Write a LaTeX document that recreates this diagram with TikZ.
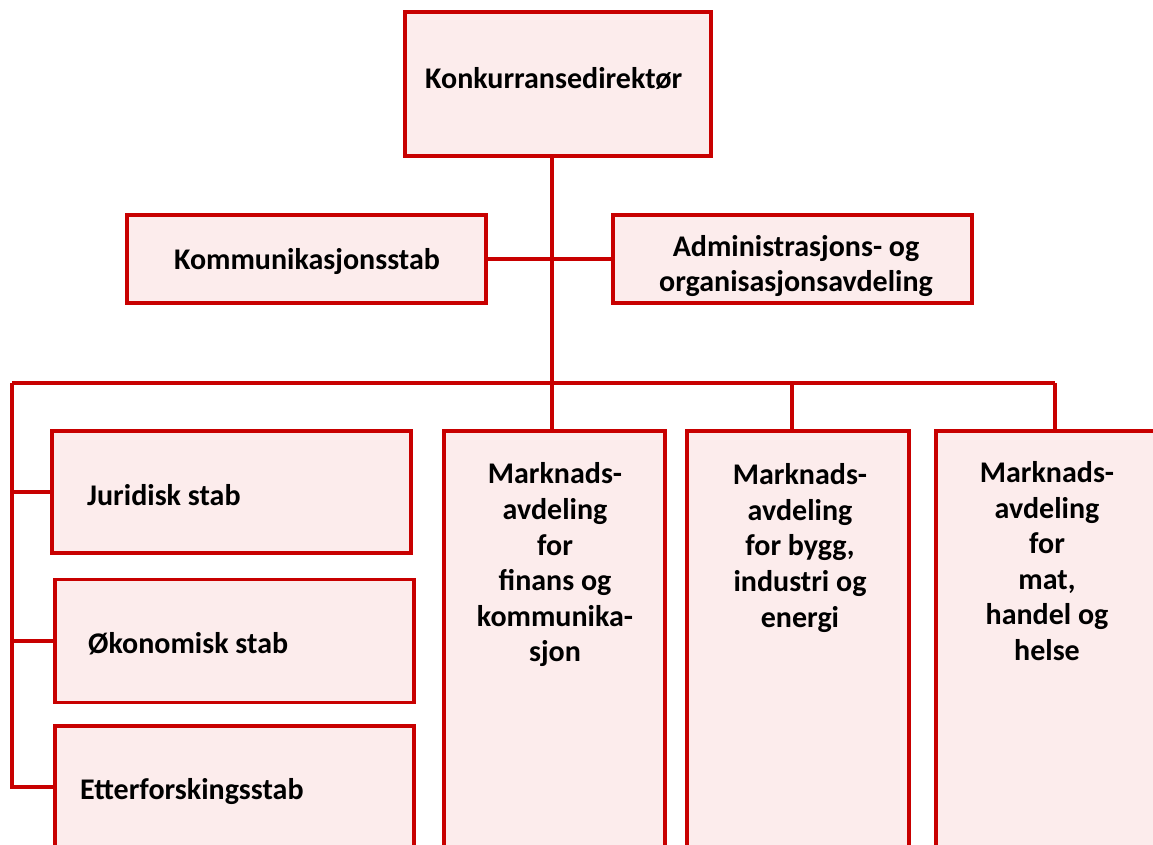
\documentclass[tikz,border=0pt]{standalone}
\usepackage{fontspec}
\setmainfont{Carlito}
\begin{document}
\begin{tikzpicture}[x=1bp,y=-1bp,
  box/.style={draw=boxred, fill=boxfill, line width=3.2bp, rectangle, inner sep=0pt},
  lbl/.style={font=\fontsize{30bp}{35.6bp}\selectfont\bfseries, inner sep=0pt, text=black},
  mlbl/.style={lbl, align=center},
  conn/.style={draw=boxred, line width=3.2bp}]
\definecolor{boxred}{HTML}{C80000}
\definecolor{boxfill}{HTML}{FCECEC}
\useasboundingbox (0,0) rectangle (1153,845);
\clip (0,0) rectangle (1153,845);
% coordinates for connectors
\coordinate (spine) at (552,383);
\coordinate (busL) at (12,383);
\coordinate (busR) at (1055,383);
\coordinate (bus2) at (792,383);
\coordinate (ettT) at (12,787);
% boxes
\node[box, minimum width=306bp, minimum height=144bp] (top) at (558,84) {};
\node[box, minimum width=359bp, minimum height=88bp] (komm) at (306.5,259) {};
\node[box, minimum width=359bp, minimum height=88bp] (adm) at (792.5,259) {};
\node[box, minimum width=359bp, minimum height=122bp] (jur) at (231.5,492) {};
\node[box, minimum width=359bp, minimum height=123bp] (oko) at (234.5,641) {};
\node[box, minimum width=359bp, minimum height=200bp] (ett) at (234.5,826) {};
\node[box, minimum width=221bp, minimum height=500bp] (m1) at (554.5,681) {};
\node[box, minimum width=222bp, minimum height=500bp] (m2) at (798,681) {};
\node[box, minimum width=240bp, minimum height=500bp] (m3) at (1056,681) {};
% connectors
\draw[conn] (top.south -| spine) -- (m1.north -| spine);
\draw[conn] (komm.east) -- (adm.west);
\draw[conn] (busL) -- (busR);
\draw[conn] (bus2) -- (m2.north -| bus2);
\draw[conn] (busR) -- (m3.north -| busR);
\draw[conn] (busL) -- (ettT) -- (ettT -| ett.west);
\draw[conn] (jur.west -| busL) -- (jur.west);
\draw[conn] (oko.west -| busL) -- (oko.west);
% labels
\node[lbl, anchor=west] (ttop) at (425,79) {Konkurransedirektør};
\node[lbl] (tkomm) at (307,262) {Kommunikasjonsstab};
\node[mlbl] (tadm) at (796,266) {Administrasjons- og\\organisasjonsavdeling};
\node[lbl, anchor=west] (tjur) at (87,495) {Juridisk stab};
\node[lbl, anchor=west] (toko) at (88,644) {Økonomisk stab};
\node[lbl, anchor=west] (tett) at (80,792) {Etterforskingsstab};
\node[mlbl] (tm1) at (555,565) {Marknads-\\avdeling\\for\\finans og\\kommunika-\\sjon};
\node[mlbl] (tm2) at (800,548) {Marknads-\\avdeling\\for bygg,\\industri og\\energi};
\node[mlbl] (tm3) at (1047,561) {Marknads-\\avdeling\\for\\mat,\\handel og\\helse};
\end{tikzpicture}
\end{document}
